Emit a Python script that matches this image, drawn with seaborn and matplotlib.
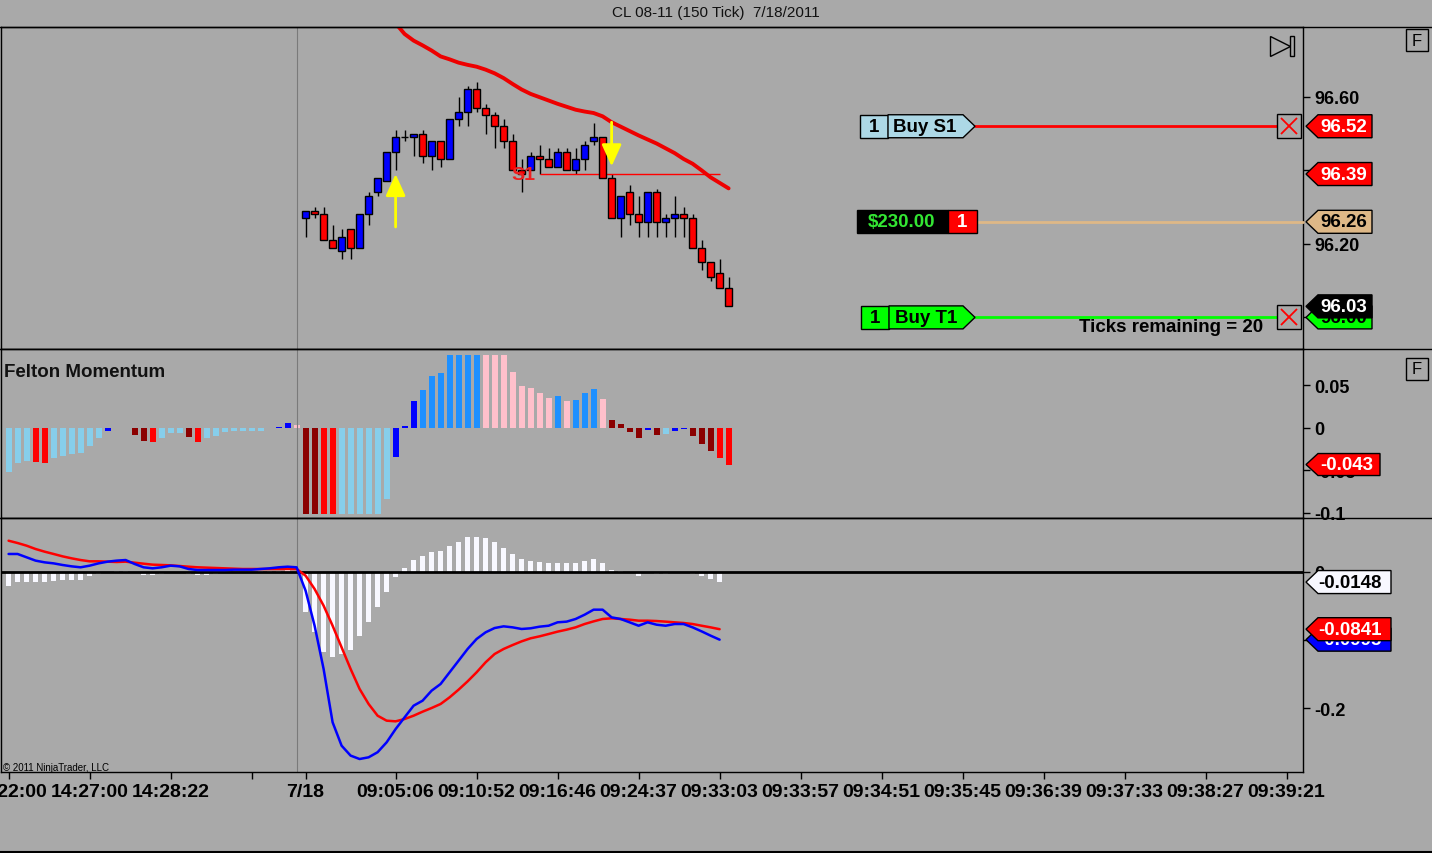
import numpy as np
import pandas as pd
import matplotlib
matplotlib.use("Agg")
import matplotlib.pyplot as plt
import seaborn as sns
from matplotlib.path import Path
from matplotlib.lines import Line2D
from matplotlib.patches import Rectangle
from matplotlib.transforms import blended_transform_factory

# ---- data ----
title = "CL 08-11 (150 Tick)  7/18/2011"

tick_bars = [0, 9, 18, 27, 33, 43, 52, 61, 70, 79, 88, 97, 106, 115, 124, 133, 142]
tick_labels = ["14:22:00", "14:27:00", "14:28:22", "", "7/18", "09:05:06", "09:10:52",
               "09:16:46", "09:24:37", "09:33:03", "09:33:57", "09:34:51", "09:35:45",
               "09:36:39", "09:37:33", "09:38:27", "09:39:21"]
session_break = 32

# candles of the 7/18 session, first one is bar 33
candle_start = 33
opens = [96.27, 96.29, 96.28, 96.21, 96.18, 96.24, 96.19, 96.28, 96.34, 96.37, 96.45, 96.49,
         96.49, 96.50, 96.44, 96.48, 96.43, 96.54, 96.56, 96.62, 96.57, 96.55, 96.52, 96.48,
         96.40, 96.40, 96.44, 96.43, 96.41, 96.45, 96.40, 96.43, 96.48, 96.49, 96.38, 96.27,
         96.34, 96.28, 96.26, 96.34, 96.26, 96.27, 96.28, 96.27, 96.19, 96.15, 96.12, 96.08]
highs = [96.29, 96.30, 96.30, 96.25, 96.24, 96.24, 96.28, 96.34, 96.38, 96.45, 96.51, 96.51,
         96.50, 96.51, 96.48, 96.48, 96.54, 96.60, 96.63, 96.64, 96.58, 96.56, 96.54, 96.50,
         96.43, 96.45, 96.47, 96.46, 96.46, 96.46, 96.46, 96.48, 96.53, 96.49, 96.39, 96.33,
         96.36, 96.33, 96.34, 96.35, 96.28, 96.33, 96.30, 96.28, 96.21, 96.15, 96.16, 96.11]
lows = [96.22, 96.27, 96.21, 96.19, 96.16, 96.16, 96.19, 96.25, 96.33, 96.37, 96.40, 96.48,
        96.44, 96.42, 96.40, 96.41, 96.43, 96.52, 96.52, 96.56, 96.50, 96.46, 96.46, 96.40,
        96.34, 96.40, 96.39, 96.41, 96.41, 96.40, 96.39, 96.40, 96.47, 96.38, 96.27, 96.22,
        96.25, 96.22, 96.22, 96.22, 96.22, 96.22, 96.22, 96.19, 96.13, 96.10, 96.08, 96.03]
closes = [96.29, 96.28, 96.21, 96.19, 96.22, 96.19, 96.28, 96.33, 96.38, 96.45, 96.49, 96.49,
          96.50, 96.44, 96.48, 96.43, 96.54, 96.56, 96.62, 96.57, 96.55, 96.52, 96.48, 96.40,
          96.39, 96.44, 96.43, 96.41, 96.45, 96.40, 96.43, 96.47, 96.49, 96.38, 96.27, 96.33,
          96.28, 96.26, 96.34, 96.26, 96.27, 96.28, 96.27, 96.19, 96.15, 96.11, 96.08, 96.03]

# red moving average, starts at bar 43
sma_start = 43
sma = [96.800, 96.771, 96.753, 96.740, 96.726, 96.710, 96.702, 96.693, 96.687, 96.682,
       96.674, 96.664, 96.651, 96.635, 96.620, 96.608, 96.599, 96.590, 96.581, 96.573,
       96.565, 96.560, 96.556, 96.547, 96.531, 96.519, 96.507, 96.495, 96.484, 96.473,
       96.460, 96.447, 96.431, 96.418, 96.400, 96.381, 96.366, 96.351]

# signal arrows and S1 level
up_arrow = (43, 96.246, 96.39)
down_arrow = (67, 96.531, 96.411)
s1_level, s1_from, s1_to = 96.39, 59, 79

# orders / position
s1_price = 96.52
t1_price = 96.00
entry_price = 96.26
last_price = 96.03
pnl_text = "$230.00"
qty_text = "1"
ticks_remaining = 20

# Felton Momentum histogram, bars 0..80
momentum = [-0.0514, -0.0412, -0.0392, -0.0396, -0.0412, -0.0353, -0.0333, -0.0310, -0.0294,
            -0.0216, -0.0118, -0.0030, 0.0, 0.0, -0.0078, -0.0149, -0.0161, -0.0118, -0.0059,
            -0.0059, -0.0102, -0.0161, -0.0118, -0.0090, -0.0051, -0.0039, -0.0039, -0.0035,
            -0.0031, 0.0, 0.0015, 0.0059, 0.0035, -0.101, -0.101, -0.101, -0.101, -0.101,
            -0.101, -0.101, -0.101, -0.101, -0.0835, -0.0337, 0.0020, 0.0322, 0.0451, 0.0608,
            0.0647, 0.0860, 0.0860, 0.0860, 0.0860, 0.0860, 0.0860, 0.0860, 0.0655, 0.0490,
            0.0467, 0.0412, 0.0353, 0.0380, 0.0322, 0.0333, 0.0408, 0.0459, 0.0341, 0.0094,
            0.0047, -0.0051, -0.0122, -0.0027, -0.0078, -0.0071, -0.0030, -0.0010, -0.0090,
            -0.0188, -0.0267, -0.0353, -0.0431]
momentum_shade = ["lb", "lb", "lb", "r", "r", "lb", "lb", "lb", "lb", "lb", "lb", "b", "lb", "lb",
                  "dr", "dr", "r", "lb", "lb", "lb", "dr", "r", "lb", "lb", "lb", "lb", "lb", "lb",
                  "lb", "lb", "b", "b", "pk", "dr", "dr", "r", "r", "lb", "lb", "lb", "lb", "lb",
                  "lb", "b", "b", "b", "db", "db", "db", "db", "db", "db", "db", "pk", "pk", "pk",
                  "pk", "pk", "pk", "pk", "pk", "db", "pk", "db", "db", "db", "pk", "dr", "dr",
                  "dr", "dr", "b", "dr", "lb", "b", "b", "dr", "dr", "dr", "r", "r"]
momentum_last = -0.043

# MACD panel, bars 0..79
macd_hist = [-0.0201, -0.0152, -0.0152, -0.0152, -0.0152, -0.0127, -0.0120, -0.0120, -0.0118,
             -0.0064, -0.0034, -0.0005, 0.0015, 0.0015, -0.0005, -0.0040, -0.0050, -0.0030,
             -0.0020, -0.0020, -0.0030, -0.0040, -0.0040, -0.0030, -0.0020, -0.0020, -0.0010,
             0.0005, 0.0010, 0.0020, 0.0020, 0.0030, 0.0005, -0.0593, -0.0887, -0.1180,
             -0.1255, -0.1206, -0.1142, -0.0946, -0.0730, -0.0510, -0.0290, -0.0069, 0.0064,
             0.0181, 0.0240, 0.0299, 0.0310, 0.0377, 0.0446, 0.0510, 0.0510, 0.0495, 0.0446,
             0.0358, 0.0265, 0.0186, 0.0162, 0.0147, 0.0137, 0.0137, 0.0127, 0.0137, 0.0162,
             0.0186, 0.0137, 0.0030, 0.0015, 0.0005, -0.0060, -0.0010, -0.0030, -0.0030,
             -0.0020, 0.0005, -0.0030, -0.0060, -0.0100, -0.0148]
macd_line = [0.0265, 0.0265, 0.0216, 0.0167, 0.0142, 0.0127, 0.0103, 0.0083, 0.0069, 0.0093,
             0.0127, 0.0152, 0.0167, 0.0176, 0.0118, 0.0069, 0.0054, 0.0069, 0.0093, 0.0083,
             0.0044, 0.0029, 0.0029, 0.0029, 0.0029, 0.0034, 0.0034, 0.0034, 0.0044, 0.0054,
             0.0069, 0.0078, 0.0069, -0.0275, -0.0790, -0.1426, -0.2210, -0.2554, -0.2700,
             -0.2750, -0.2725, -0.2650, -0.2505, -0.2310, -0.2137, -0.1966, -0.1892, -0.1745,
             -0.1647, -0.1475, -0.1304, -0.1132, -0.0985, -0.0887, -0.0824, -0.0799, -0.0814,
             -0.0838, -0.0828, -0.0804, -0.0790, -0.0740, -0.0730, -0.0691, -0.0628, -0.0554,
             -0.0554, -0.0667, -0.0691, -0.0740, -0.0790, -0.0740, -0.0775, -0.0790, -0.0765,
             -0.0765, -0.0814, -0.0873, -0.0936, -0.0995]
macd_signal = [0.0460, 0.0426, 0.0387, 0.0338, 0.0299, 0.0265, 0.0230, 0.0201, 0.0176, 0.0157,
               0.0157, 0.0152, 0.0147, 0.0152, 0.0137, 0.0122, 0.0108, 0.0103, 0.0098, 0.0088,
               0.0078, 0.0069, 0.0064, 0.0059, 0.0054, 0.0049, 0.0044, 0.0044, 0.0044, 0.0044,
               0.0044, 0.0044, 0.0044, -0.0054, -0.0250, -0.0495, -0.0790, -0.1108, -0.1426,
               -0.1720, -0.1941, -0.2113, -0.2186, -0.2196, -0.2162, -0.2113, -0.2054, -0.2000,
               -0.1941, -0.1843, -0.1730, -0.1608, -0.1475, -0.1328, -0.1206, -0.1132, -0.1074,
               -0.1020, -0.0975, -0.0946, -0.0912, -0.0877, -0.0848, -0.0814, -0.0765, -0.0726,
               -0.0691, -0.0681, -0.0691, -0.0701, -0.0716, -0.0716, -0.0721, -0.0730, -0.0740,
               -0.0750, -0.0765, -0.0790, -0.0814, -0.0841]

# ---- styling ----
W, H = 1432, 854
BG = "#A9A9A9"
PLOT_W = 1302
palette = {"lb": "#87CEEB", "r": "#FF0000", "dr": "#8B0000", "b": "#0000FF",
           "db": "#1E90FF", "pk": "#FFC0CB"}

sns.set_theme(style="white", rc={"axes.facecolor": BG, "figure.facecolor": BG,
                                 "axes.edgecolor": "black", "savefig.facecolor": BG})
plt.rcParams["font.family"] = ["Liberation Sans", "DejaVu Sans"]

fig = plt.figure(figsize=(W / 100, H / 100), dpi=100)


def panel(top, bottom):
    ax = fig.add_axes([1 / W, 1 - bottom / H, PLOT_W / W, (bottom - top) / H])
    ax.set_facecolor(BG)
    for s in ax.spines.values():
        s.set_color("black")
        s.set_linewidth(1)
    return ax


def tag_style(left, right, half_h, ltip=0, rtip=0):
    # fixed size label box (pixels around the text centre), optional pointed ends
    def style(x0, y0, width, height, mutation_size):
        cx, cy = x0 + width / 2, y0 + height / 2
        L, R, B, T = cx - left, cx + right, cy - half_h, cy + half_h
        verts = [(L + ltip, B), (R - rtip, B), (R, cy), (R - rtip, T),
                 (L + ltip, T), (L, cy), (L + ltip, B)]
        return Path(verts, closed=True)
    return style


def tag(ax, xpix, y, text, fc, tc, style, z=6):
    tr = blended_transform_factory(ax.transAxes, ax.transData)
    ax.text((xpix - 1) / PLOT_W, y, text, transform=tr, ha="center", va="center",
            color=tc, fontsize=13.5, fontweight="bold", clip_on=False, zorder=z,
            bbox=dict(boxstyle=style, fc=fc, ec="black", lw=1))


def fx(xpix):
    return (xpix - 1) / PLOT_W


ax1 = panel(28, 350)
ax2 = panel(350, 519)
ax3 = panel(519, 773)
axes = [ax1, ax2, ax3]

# ---- price panel ----
idx = np.arange(candle_start, candle_start + len(opens))
o, hi, lo, c = map(np.array, (opens, highs, lows, closes))
body_col = np.where(c > o, "#0000FF", np.where(c < o, "#FF0000", "black"))
ax1.vlines(idx, lo, hi, color="black", lw=1, zorder=2)
ax1.bar(idx, np.abs(c - o), bottom=np.minimum(o, c), width=0.7, color=body_col,
        edgecolor="black", linewidth=1, zorder=3)

sns.lineplot(x=np.arange(sma_start, sma_start + len(sma)), y=sma, color="#EE0000",
             lw=2.8, ax=ax1, zorder=4)

ax1.hlines(s1_level, s1_from, s1_to, color="#FF0000", lw=1, zorder=2)
ax1.text(s1_from - 0.5, s1_level, "S1", color="#EE2020", fontsize=14, fontweight="bold",
         ha="right", va="center", zorder=5)

for bar, y0, y1 in (up_arrow, down_arrow):
    ax1.annotate("", xy=(bar, y1), xytext=(bar, y0),
                 arrowprops=dict(arrowstyle="-|>,head_length=1.1,head_width=0.5",
                                 color="#FFFF00", lw=2, shrinkA=0, shrinkB=0), zorder=5)

bl = blended_transform_factory(ax1.transAxes, ax1.transData)
ax1.plot([fx(975), fx(1277)], [s1_price, s1_price], color="#FF0000", lw=2, transform=bl,
         clip_on=False, zorder=4)
ax1.plot([fx(975), fx(1277)], [t1_price, t1_price], color="#00FF00", lw=2, transform=bl,
         clip_on=False, zorder=4)
ax1.plot([fx(977), 1.0], [entry_price, entry_price], color="#DEB887", lw=2, transform=bl,
         clip_on=False, zorder=4)
for p in (s1_price, t1_price):
    ax1.plot([fx(1289)], [p], marker="s", ms=17, mfc=BG, mec="black", mew=1, transform=bl,
             clip_on=False, zorder=6)
    ax1.plot([fx(1289)], [p], marker="x", ms=12, mec="#FF0000", mew=1.3, transform=bl,
             clip_on=False, zorder=7)

tag(ax1, 874, s1_price, "1", "#ADD8E6", "black", tag_style(14, 14, 11.5))
tag(ax1, 925, s1_price, "Buy S1", "#ADD8E6", "black", tag_style(37, 50, 11.5, rtip=12))
tag(ax1, 875, t1_price, "1", "#00FF00", "black", tag_style(14, 14, 11.5))
tag(ax1, 926, t1_price, "Buy T1", "#00FF00", "black", tag_style(37, 49, 11.5, rtip=12))
tag(ax1, 902, entry_price, pnl_text, "black", "#33E633", tag_style(45, 46, 11.5))
tag(ax1, 962.5, entry_price, qty_text, "#FF0000", "white", tag_style(14.5, 14.5, 11.5))

ax1.text(fx(1263), (350 - 328) / 322, f"Ticks remaining = {ticks_remaining}",
         transform=ax1.transAxes, ha="right", va="center", fontsize=13.5,
         fontweight="bold", color="black", zorder=6)

price_tag = tag_style(38, 28, 11.5, ltip=12)
tag(ax1, 1344, t1_price, f"{t1_price:.2f}", "#00FF00", "black", price_tag, z=6)
tag(ax1, 1344, last_price, f"{last_price:.2f}", "black", "white", price_tag, z=7)
tag(ax1, 1344, s1_price, f"{s1_price:.2f}", "#FF0000", "white", price_tag)
tag(ax1, 1344, s1_level, f"{s1_level:.2f}", "#FF0000", "white", price_tag)
tag(ax1, 1344, entry_price, f"{entry_price:.2f}", "#DEB887", "black", price_tag)

# play-to-end icon
ax1.plot([fx(1280)], [(350 - 47) / 322], marker=">", ms=14, mfc="none", mec="black",
         mew=1, transform=ax1.transAxes, clip_on=False)
ax1.add_patch(Rectangle((fx(1290), (350 - 57) / 322), 4 / PLOT_W, 20 / 322,
                        transform=ax1.transAxes, fill=False, ec="black", lw=1,
                        clip_on=False))

ax1.set_ylim(95.914, 96.790)
ax1.set_yticks([96.0, 96.2, 96.4, 96.6])
ax1.set_yticklabels([f"{v:.2f}" for v in [96.0, 96.2, 96.4, 96.6]], fontweight="bold")

# ---- Felton Momentum ----
mom_df = pd.DataFrame({"bar": np.arange(len(momentum)), "value": momentum,
                       "shade": momentum_shade})
sns.barplot(data=mom_df, x="bar", y="value", hue="shade", palette=palette,
            native_scale=True, errorbar=None, saturation=1, width=0.65, linewidth=0,
            legend=False, ax=ax2)
ax2.text(fx(4), 1 - 23 / 169, "Felton Momentum", transform=ax2.transAxes, ha="left",
         va="center", fontsize=13.5, fontweight="bold", color="#111111")
tag(ax2, 1347, momentum_last, f"{momentum_last:.3f}", "#FF0000", "white",
    tag_style(41, 33, 11, ltip=12))
ax2.set_ylim(-0.1059, 0.0929)
ax2.set_yticks([-0.1, -0.05, 0, 0.05])
ax2.set_yticklabels(["-0.1", "-0.05", "0", "0.05"], fontweight="bold")

# ---- MACD ----
mbars = np.arange(len(macd_hist))
sns.barplot(x=mbars, y=macd_hist, native_scale=True, color="#F8F8FF", saturation=1,
            errorbar=None, width=0.55, linewidth=0, ax=ax3)
ax3.axhline(0, color="black", lw=2, zorder=3)
sns.lineplot(x=mbars, y=macd_signal, color="#FF0000", lw=1.8, ax=ax3, zorder=4)
sns.lineplot(x=mbars, y=macd_line, color="#0000FF", lw=1.8, ax=ax3, zorder=5)
macd_tag = tag_style(44, 41, 11.5, ltip=12)
tag(ax3, 1350, macd_line[-1], f"{macd_line[-1]:.4f}", "#0000FF", "white", macd_tag, z=6)
tag(ax3, 1350, macd_signal[-1], f"{macd_signal[-1]:.4f}", "#FF0000", "white", macd_tag, z=7)
tag(ax3, 1350, macd_hist[-1], f"{macd_hist[-1]:.4f}", "#F8F8FF", "black", macd_tag, z=7)
ax3.set_ylim(-0.2941, 0.0794)
ax3.set_yticks([-0.2, -0.1, 0])
ax3.set_yticklabels(["-0.2", "-0.1", "0"], fontweight="bold")

# ---- shared axis setup ----
for ax in axes:
    ax.axvline(session_break, color="#7A7A7A", lw=0.8, zorder=1)
    ax.set_xlim(-0.844, 143.82)
    ax.set_xlabel("")
    ax.set_ylabel("")
    ax.tick_params(axis="y", left=False, right=True, labelleft=False, labelright=True,
                   direction="out", length=5, width=1, colors="black", labelsize=13, pad=3)
    ax.tick_params(axis="x", bottom=False, labelbottom=False)

ax3.set_xticks(tick_bars)
ax3.set_xticklabels(tick_labels, fontweight="bold", fontsize=14)
ax3.tick_params(axis="x", bottom=True, labelbottom=True, direction="out", length=5,
                width=1, colors="black", pad=3)

# ---- frame, title, small texts ----
for y in (28, 350, 519):
    fig.add_artist(Line2D([0, 1], [1 - y / H, 1 - y / H], color="black", lw=1))
fig.add_artist(Line2D([0, 1], [1 - 853 / H, 1 - 853 / H], color="black", lw=1.5))

fig.text(0.5, 1 - 13 / H, title, ha="center", va="center", fontsize=11, color="#111111")
fig.text(3 / W, 1 - 768 / H, "\u00a9 2011 NinjaTrader, LLC", ha="left", va="center",
         fontsize=7, color="black")
for yc in (41, 370):
    fig.text(1417 / W, 1 - yc / H, "F", ha="center", va="center", fontsize=12,
             color="black", bbox=dict(boxstyle=tag_style(11, 11, 11), fc=BG, ec="black", lw=1))

fig.savefig("out.png", dpi=100, facecolor=BG)
